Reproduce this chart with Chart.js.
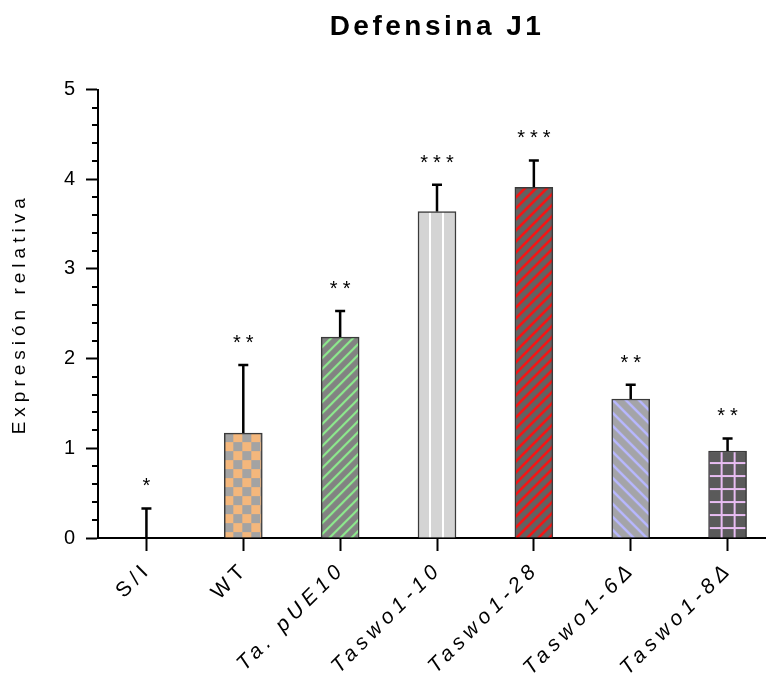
<!DOCTYPE html>
<html lang="es">
<head>
<meta charset="utf-8">
<title>Defensina J1</title>
<script src="https://cdn.jsdelivr.net/npm/chart.js@4.4.1/dist/chart.umd.min.js"></script>
<style>
  html, body { margin: 0; padding: 0; background: #fff; overflow: hidden; }
  #contenedor { width: 766px; height: 679px; overflow: hidden; }
  canvas { display: block; }
</style>
</head>
<body>
<div id="contenedor"><canvas id="grafico" width="800" height="679"></canvas></div>
<script>
// Datos del gráfico
const grupos = ['S/I', 'WT', 'Ta. pUE10', 'Taswo1-10', 'Taswo1-28', 'Taswo1-6Δ', 'Taswo1-8Δ'];
const expresion = [0, 1.17, 2.24, 3.64, 3.91, 1.55, 0.97];
const errorSup = [0.33, 0.76, 0.29, 0.30, 0.30, 0.16, 0.14];
const significancia = ['*', '**', '**', '***', '***', '**', '**'];
const ticksY = [0, 1, 2, 3, 4, 5];

const FUENTE = '"Liberation Sans", Arial, sans-serif';
Chart.defaults.font.family = FUENTE;
Chart.defaults.color = '#000';

// Patrones de relleno para cada barra
function crearPatron(w, h, dibujar) {
    const c = document.createElement('canvas');
    c.width = w;
    c.height = h;
    const g = c.getContext('2d');
    dibujar(g, w, h);
    return g.createPattern(c, 'repeat');
}

function rayas(fondo, color, paso, grosor, sentido) {
    return crearPatron(paso, paso, (g, w, h) => {
        g.fillStyle = fondo;
        g.fillRect(0, 0, w, h);
        g.strokeStyle = color;
        g.lineWidth = grosor;
        g.beginPath();
        if (sentido === '/') {
            g.moveTo(-2, h + 2); g.lineTo(w + 2, -2);
            g.moveTo(-2, 2); g.lineTo(2, -2);
            g.moveTo(w - 2, h + 2); g.lineTo(w + 2, h - 2);
        } else {
            g.moveTo(-2, -2); g.lineTo(w + 2, h + 2);
            g.moveTo(w - 2, -2); g.lineTo(w + 2, 2);
            g.moveTo(-2, h - 2); g.lineTo(2, h + 2);
        }
        g.stroke();
    });
}

const ajedrez = crearPatron(18, 18, (g) => {
    g.fillStyle = '#a3a3a3';
    g.fillRect(0, 0, 18, 18);
    g.fillStyle = '#f4b77c';
    g.fillRect(9, 0, 9, 9);
    g.fillRect(0, 9, 9, 9);
});

const verticales = crearPatron(13, 13, (g) => {
    g.fillStyle = '#d4d4d4';
    g.fillRect(0, 0, 13, 13);
    g.fillStyle = '#ffffff';
    g.fillRect(0, 0, 2, 13);
});

const cuadricula = crearPatron(13, 13, (g) => {
    g.fillStyle = '#5a5a5a';
    g.fillRect(0, 0, 13, 13);
    g.fillStyle = '#e8bdf2';
    g.fillRect(0, 0, 2, 13);
    g.fillRect(0, 0, 13, 2);
});

const rellenos = [
    'rgba(0,0,0,0)',
    ajedrez,
    rayas('#828282', '#8ef08e', 11, 2, '/'),
    verticales,
    rayas('#626262', '#ff1010', 11, 2.5, '/'),
    rayas('#a4a4a8', '#b8b8ff', 13, 2.5, '\\'),
    cuadricula
];
// desplazamiento del patrón respecto a la esquina de cada barra
const desfase = [[0, 0], [0, 0], [0, 0], [11, 0], [0, 0], [0, 0], [12, 11]];

// Espaciado entre letras: 5px en general, algo menos en el título
const espaciado = {
    id: 'espaciado',
    afterInit(chart) {
        const titulo = chart.titleBlock;
        const dibujarTitulo = titulo.draw.bind(titulo);
        titulo.draw = (area) => {
            chart.ctx.letterSpacing = '3.5px';
            dibujarTitulo(area);
            chart.ctx.letterSpacing = '5px';
        };
    },
    beforeLayout(chart) { chart.ctx.letterSpacing = '5px'; },
    beforeDraw(chart) { chart.ctx.letterSpacing = '5px'; }
};

// Ancla los patrones a cada barra
const anclarPatrones = {
    id: 'anclarPatrones',
    beforeDatasetsDraw(chart) {
        chart.getDatasetMeta(0).data.forEach((bar, i) => {
            const p = rellenos[i];
            if (p instanceof CanvasPattern) {
                const x0 = bar.x - bar.width / 2 + desfase[i][0];
                const y0 = bar.y + desfase[i][1];
                p.setTransform(new DOMMatrix([1, 0, 0, 1, x0, y0]));
            }
        });
    }
};

// Marcas menores del eje Y
const marcasMenores = {
    id: 'marcasMenores',
    afterDraw(chart) {
        const { ctx, scales: { y } } = chart;
        ctx.save();
        ctx.strokeStyle = '#000';
        ctx.lineWidth = 2;
        ctx.beginPath();
        for (let v = 0.2; v < 5; v += 0.2) {
            if (Math.abs(v - Math.round(v)) < 0.01) continue;
            const py = Math.round(y.getPixelForValue(v));
            ctx.moveTo(y.right - 6, py);
            ctx.lineTo(y.right, py);
        }
        ctx.stroke();
        ctx.restore();
    }
};

// Barras de error (solo hacia arriba) y asteriscos
const barrasError = {
    id: 'barrasError',
    afterDatasetsDraw(chart) {
        const { ctx, scales: { y } } = chart;
        const meta = chart.getDatasetMeta(0);
        ctx.save();
        ctx.strokeStyle = '#000';
        ctx.fillStyle = '#000';
        ctx.lineWidth = 2.5;
        ctx.font = '20px ' + FUENTE;
        ctx.textAlign = 'center';
        ctx.textBaseline = 'alphabetic';
        meta.data.forEach((bar, i) => {
            const yBase = y.getPixelForValue(expresion[i]);
            const yTope = y.getPixelForValue(expresion[i] + errorSup[i]);
            ctx.beginPath();
            ctx.moveTo(bar.x, yBase);
            ctx.lineTo(bar.x, yTope);
            ctx.moveTo(bar.x - 5, yTope);
            ctx.lineTo(bar.x + 5, yTope);
            ctx.stroke();
            ctx.fillText(significancia[i], bar.x + 2.5, yTope - 16);
        });
        ctx.restore();
    }
};

new Chart(document.getElementById('grafico'), {
    type: 'bar',
    data: {
        labels: grupos,
        datasets: [{
            data: expresion,
            backgroundColor: rellenos,
            borderColor: '#3a3a3a',
            borderWidth: 1.5,
            borderSkipped: 'bottom',
            barThickness: 38
        }]
    },
    options: {
        responsive: false,
        animation: false,
        layout: { padding: { left: 0, right: 24, top: 0, bottom: 0 } },
        plugins: {
            legend: { display: false },
            tooltip: { enabled: false },
            title: {
                display: true,
                text: 'Defensina J1',
                fullSize: false,
                color: '#000',
                font: { size: 28, weight: 'bold' },
                padding: { top: 10, bottom: 46 }
            }
        },
        scales: {
            x: {
                offset: true,
                afterFit: (s) => { s.height = 141; },
                grid: {
                    offset: false,
                    drawOnChartArea: false,
                    tickLength: 13,
                    tickWidth: 2,
                    tickColor: '#000'
                },
                border: { color: '#000', width: 2 },
                ticks: {
                    autoSkip: false,
                    minRotation: 45,
                    maxRotation: 45,
                    padding: 6,
                    labelOffset: 2,
                    color: '#000',
                    font: (c) => ({ size: 21, style: c.index >= 2 ? 'italic' : 'normal' })
                }
            },
            y: {
                min: 0,
                max: 5,
                afterFit: (s) => { s.width = 98; },
                afterBuildTicks: (s) => { s.ticks = ticksY.map(v => ({ value: v })); },
                grid: {
                    drawOnChartArea: false,
                    tickLength: 12,
                    tickWidth: 2,
                    tickColor: '#000'
                },
                border: { color: '#000', width: 2 },
                ticks: { padding: 6, color: '#000', font: { size: 20 } },
                title: {
                    display: true,
                    text: 'Expresión relativa',
                    color: '#000',
                    font: { size: 19 },
                    padding: { top: 8, bottom: 0 }
                }
            }
        }
    },
    plugins: [espaciado, anclarPatrones, barrasError, marcasMenores]
});
</script>
</body>
</html>
